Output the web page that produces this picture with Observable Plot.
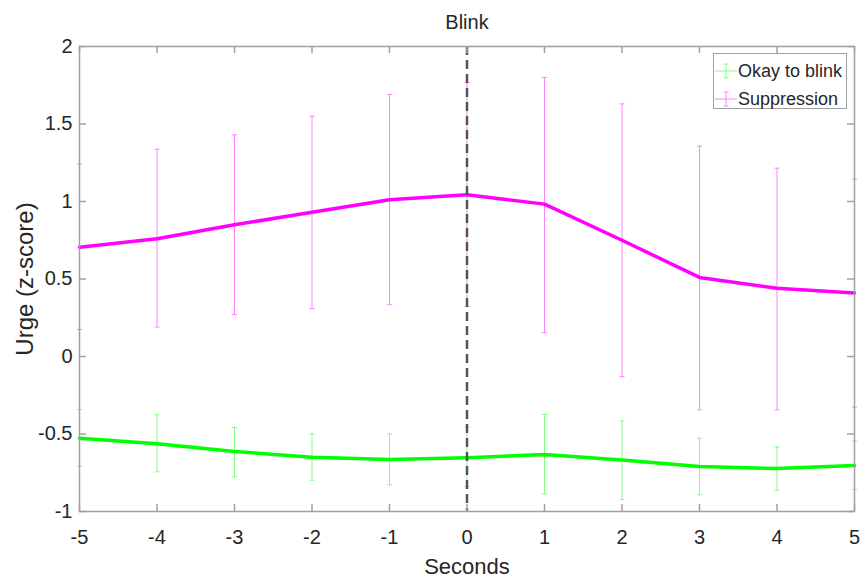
<!DOCTYPE html>
<html>
<head>
<meta charset="utf-8">
<script src="https://cdn.jsdelivr.net/npm/d3@7"></script>
<script src="https://cdn.jsdelivr.net/npm/@observablehq/plot@0.6"></script>
<style>
  body { margin: 0; background: #fff; }
  #wrap { position: relative; width: 860px; height: 579px; font-family: "Liberation Sans", Arial, sans-serif; color: #262626; }
  #legend { position: absolute; left: 713px; top: 53px; width: 134px; height: 56px; border: 1px solid #a0a0a0; background: #fff; box-sizing: border-box; font-size: 18px; }
  .row { position: absolute; left: 0; height: 22px; display: flex; align-items: center; }
  .row svg { display: block; margin-left: 1px; margin-right: 1px; }
</style>
</head>
<body>
<div id="wrap"></div>
<script>
// ---- data ----
const seconds = [-5, -4, -3, -2, -1, 0, 1, 2, 3, 4, 5];
const suppressionMean = [0.705, 0.76, 0.85, 0.93, 1.011, 1.043, 0.983, 0.75, 0.51, 0.44, 0.41];
const suppressionLow  = [0.174, 0.19, 0.27, 0.31, 0.334, 0.323, 0.155, -0.13, -0.344, -0.344, -0.327];
const suppressionHigh = [1.24, 1.337, 1.43, 1.55, 1.69, 1.768, 1.80, 1.63, 1.357, 1.215, 1.144];
const okayMean = [-0.527, -0.563, -0.613, -0.65, -0.665, -0.654, -0.632, -0.667, -0.71, -0.723, -0.703];
const okayLow  = [-0.708, -0.744, -0.776, -0.798, -0.828, -0.839, -0.886, -0.923, -0.892, -0.862, -0.858];
const okayHigh = [-0.342, -0.376, -0.458, -0.5, -0.5, -0.456, -0.374, -0.415, -0.527, -0.583, -0.544];
const xTicks = [-5, -4, -3, -2, -1, 0, 1, 2, 3, 4, 5];
const yTicks = [-1, -0.5, 0, 0.5, 1, 1.5, 2];
const seriesNames = ["Okay to blink", "Suppression"];
const eventTime = [0];

// ---- tables ----
const okay = seconds.map((s, i) => ({x: s, mean: okayMean[i], lo: okayLow[i], hi: okayHigh[i]}));
const supp = seconds.map((s, i) => ({x: s, mean: suppressionMean[i], lo: suppressionLow[i], hi: suppressionHigh[i]}));

const W = 860, H = 579, mT = 46, mB = 68, mL = 79, mR = 6;
const plotW = W - mL - mR, plotH = H - mT - mB;
const tickLen = 7;
const capSymbol = {draw(ctx, size) { const r = Math.sqrt(size / Math.PI); ctx.moveTo(-r, 0); ctx.lineTo(r, 0); }};

const green = "#00ff00", greenBar = "#80ff80";
const magenta = "#ff00ff", magentaBar = "#ff80ff";
const frameColor = "#a0a0a0";

function errMarks(data, color) {
  return [
    Plot.ruleX(data, {x: "x", y1: "lo", y2: "hi", stroke: color, strokeWidth: 1}),
    Plot.dot(data, {x: "x", y: "lo", symbol: capSymbol, r: 2.5, stroke: color, strokeWidth: 1, fill: "none"}),
    Plot.dot(data, {x: "x", y: "hi", symbol: capSymbol, r: 2.5, stroke: color, strokeWidth: 1, fill: "none"})
  ];
}

const chart = Plot.plot({
  width: W, height: H,
  marginTop: mT, marginBottom: mB, marginLeft: mL, marginRight: mR,
  style: {fontFamily: '"Liberation Sans", Arial, sans-serif', color: "#262626", background: "#fff"},
  x: {domain: [-5, 5]},
  y: {domain: [-1, 2]},
  marks: [
    ...errMarks(supp, magentaBar),
    ...errMarks(okay, greenBar),
    Plot.line(supp, {x: "x", y: "mean", stroke: magenta, strokeWidth: 3.5}),
    Plot.line(okay, {x: "x", y: "mean", stroke: green, strokeWidth: 3.5}),
    Plot.ruleX(eventTime, {x: d => d, stroke: "#555", strokeWidth: 2.5, strokeDasharray: "9,5"}),
    Plot.frame({stroke: frameColor, strokeWidth: 1.5}),
    // inward ticks
    Plot.tickX(xTicks, {x: d => d, stroke: frameColor, strokeWidth: 1.5, insetTop: plotH - tickLen}),
    Plot.tickX(xTicks, {x: d => d, stroke: frameColor, strokeWidth: 1.5, insetBottom: plotH - tickLen}),
    Plot.tickY(yTicks, {y: d => d, stroke: frameColor, strokeWidth: 1.5, insetRight: plotW - tickLen}),
    Plot.tickY(yTicks, {y: d => d, stroke: frameColor, strokeWidth: 1.5, insetLeft: plotW - tickLen}),
    // tick labels
    Plot.axisX(xTicks, {anchor: "bottom", tickSize: 0, tickPadding: 18, fontSize: 20, tickFormat: d => String(d), label: null}),
    Plot.axisY(yTicks, {anchor: "left", tickSize: 0, tickPadding: 7, fontSize: 20, tickFormat: d => String(d), label: null}),
    // titles
    Plot.text(["Blink"], {frameAnchor: "top", dy: -24, fontSize: 20, lineAnchor: "middle", fill: "#262626"}),
    Plot.text(["Seconds"], {frameAnchor: "bottom", dy: 55, fontSize: 22, lineAnchor: "middle", fill: "#262626"}),
    Plot.text(["Urge (z-score)"], {frameAnchor: "left", dx: -54, rotate: -90, fontSize: 24, textAnchor: "middle", lineAnchor: "middle", fill: "#262626"})
  ]
});

const wrap = document.getElementById("wrap");
wrap.appendChild(chart);

// legend
const legend = document.createElement("div");
legend.id = "legend";
const colors = [[green, greenBar], [magenta, magentaBar]];
seriesNames.forEach((name, i) => {
  const row = document.createElement("div");
  row.className = "row";
  row.style.top = (6 + i * 28) + "px";
  row.innerHTML = `<svg width="22" height="18" viewBox="0 0 22 18">
      <line x1="0" y1="9" x2="22" y2="9" stroke="${colors[i][1]}" stroke-width="1"/>
      <line x1="11" y1="2" x2="11" y2="16" stroke="${colors[i][1]}" stroke-width="1"/>
      <line x1="8.5" y1="2" x2="13.5" y2="2" stroke="${colors[i][1]}" stroke-width="1"/>
      <line x1="8.5" y1="16" x2="13.5" y2="16" stroke="${colors[i][1]}" stroke-width="1"/>
    </svg><span>${name}</span>`;
  legend.appendChild(row);
});
wrap.appendChild(legend);
</script>
</body>
</html>
